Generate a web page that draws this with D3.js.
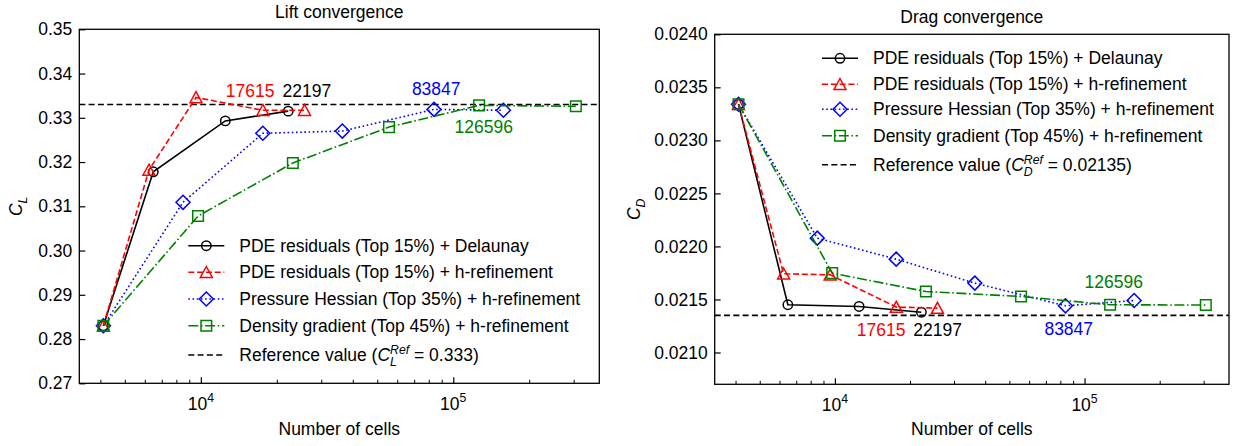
<!DOCTYPE html>
<html>
<head>
<meta charset="utf-8">
<script src="https://cdn.jsdelivr.net/npm/d3@7"></script>
<style>
  html, body { margin: 0; padding: 0; background: #ffffff; }
  svg { display: block; font-family: "Liberation Sans", Arial, Helvetica, sans-serif; }
</style>
</head>
<body>
<svg id="chart" width="1234" height="446"></svg>
<script>
// ---- Mesh sizes (number of cells) for each adaptation strategy ----
const delaunayCells = [4110, 6480, 12500, 22197];
const pdeHCells     = [4110, 6230, 9570, 17615, 25750];
const hessianCells  = [4110, 8500, 17600, 36350, 83847, 158000];
const densityCells  = [4110, 9750, 23150, 55650, 126596, 306000];

// ---- Lift coefficient C_L ----
const delaunayCL = [0.2830, 0.3178, 0.3293, 0.3315];
const pdeHCL     = [0.2830, 0.3182, 0.3346, 0.3317, 0.3317];
const hessianCL  = [0.2830, 0.3109, 0.3265, 0.3270, 0.3319, 0.3317];
const densityCL  = [0.2830, 0.3078, 0.3198, 0.3279, 0.3328, 0.3326];

// ---- Drag coefficient C_D ----
const delaunayCD = [0.02334, 0.021450, 0.021434, 0.021380];
const pdeHCD     = [0.02334, 0.021742, 0.021732, 0.021428, 0.021418];
const hessianCD  = [0.02334, 0.022078, 0.021880, 0.021654, 0.021440, 0.021490];
const densityCD  = [0.02334, 0.021748, 0.021575, 0.021528, 0.021450, 0.021447];

// ---- Reference values ----
const liftRef = 0.333;
const dragRef = 0.02135;

// ---- Series names ----
const seriesNames = [
  "PDE residuals (Top 15%) + Delaunay",
  "PDE residuals (Top 15%) + h-refinement",
  "Pressure Hessian (Top 35%) + h-refinement",
  "Density gradient (Top 45%) + h-refinement"
];

// ---- Axis ticks and limits ----
const liftTicks = [0.27, 0.28, 0.29, 0.30, 0.31, 0.32, 0.33, 0.34, 0.35];
const dragTicks = [0.0210, 0.0215, 0.0220, 0.0225, 0.0230, 0.0235, 0.0240];
const decadeTicks = [1e4, 1e5];
const decadeExponents = ["4", "5"];
const cellLimits = [3300, 379000];
const liftLimits = [0.27, 0.35];
const dragLimits = [0.0207, 0.0240];

// ---- Styling ----
const FONT = 17.5;
const LW = 1.6;
const REF_DASH = "6,3.3";
const styles = [
  { color: "#000000", dash: null,               marker: "circle"   },
  { color: "#ff0000", dash: "6,2.8",            marker: "triangle" },
  { color: "#0000ff", dash: "1.6,2.6",          marker: "diamond"  },
  { color: "#008000", dash: "10,2.6,1.6,2.6",   marker: "square"   }
];

const svg = d3.select("#chart");

function markerPath(kind) {
  switch (kind) {
    case "circle": {
      const p = d3.path();
      p.arc(0, 0, 4.7, 0, 2 * Math.PI);
      p.closePath();
      return p.toString();
    }
    case "triangle": return "M0,-5.8L6,5.2L-6,5.2Z";
    case "diamond":  return "M0,-7L7,0L0,7L-7,0Z";
    case "square":   return "M-5.3,-5.3L5.3,-5.3L5.3,5.3L-5.3,5.3Z";
  }
}

function drawMarker(g, kind, color, px, py) {
  g.append("path")
    .attr("d", markerPath(kind))
    .attr("transform", `translate(${px},${py})`)
    .attr("fill", "none")
    .attr("stroke", color)
    .attr("stroke-width", 1.5);
}

function measure(text, size, italic) {
  const t = svg.append("text")
    .attr("font-size", size)
    .attr("font-style", italic ? "italic" : "normal")
    .text(text);
  const w = t.node().getComputedTextLength();
  t.remove();
  return w;
}

// Writes "C" with a subscript and optional "Ref" superscript into a text node
function symbolLabel(textSel, sub, withSup) {
  textSel.append("tspan").attr("font-style", "italic").text("C");
  const small = FONT * 0.7;
  if (withSup) {
    const wSup = measure("Ref", small, true);
    const wSub = measure(sub, small, true);
    textSel.append("tspan").attr("font-style", "italic").attr("font-size", small)
      .attr("dy", -7.5).text("Ref");
    textSel.append("tspan").attr("font-style", "italic").attr("font-size", small)
      .attr("dx", -wSup).attr("dy", 12).text(sub);
    return { dxAfter: Math.max(0, wSup - wSub), dyAfter: -4.5 };
  }
  textSel.append("tspan").attr("font-style", "italic").attr("font-size", small)
    .attr("dy", 4.5).text(sub);
  return { dxAfter: 0, dyAfter: -4.5 };
}

function drawPanel(cfg) {
  const g = svg.append("g");
  const x = d3.scaleLog().domain(cellLimits).range([cfg.left, cfg.right]);
  const y = d3.scaleLinear().domain(cfg.yLimits).range([cfg.bottom, cfg.top]);

  // reference value
  g.append("line")
    .attr("x1", cfg.left).attr("x2", cfg.right)
    .attr("y1", y(cfg.ref)).attr("y2", y(cfg.ref))
    .attr("stroke", "#000").attr("stroke-width", LW)
    .attr("stroke-dasharray", REF_DASH);

  // series
  cfg.series.forEach((s, i) => {
    const st = styles[i];
    const pts = s.cells.map((c, k) => [x(c), y(s.values[k])]);
    g.append("path")
      .attr("d", d3.line()(pts))
      .attr("fill", "none")
      .attr("stroke", st.color)
      .attr("stroke-width", LW)
      .attr("stroke-dasharray", st.dash);
    pts.forEach(p => drawMarker(g, st.marker, st.color, p[0], p[1]));
  });

  // axes
  const yAxis = d3.axisLeft(y).tickValues(cfg.yTicks).tickSize(-6).tickPadding(7)
    .tickFormat(d3.format(cfg.yFormat));
  const ya = g.append("g").attr("transform", `translate(${cfg.left},0)`).call(yAxis);
  ya.select(".domain").remove();
  ya.selectAll("line").attr("stroke", "#000").attr("stroke-width", 1.2);
  ya.selectAll("text").attr("font-size", FONT).attr("font-family", null).attr("fill", "#000");

  const minor = [];
  [1e3, 1e4, 1e5].forEach(dec => { for (let m = 2; m <= 9; m++) minor.push(dec * m); });
  const minorIn = minor.filter(v => v > cellLimits[0] && v < cellLimits[1]);
  const xMinor = g.append("g").attr("transform", `translate(0,${cfg.bottom})`)
    .call(d3.axisBottom(x).tickValues(minorIn).tickSize(-3.5).tickFormat(""));
  xMinor.select(".domain").remove();
  xMinor.selectAll("line").attr("stroke", "#000").attr("stroke-width", 1);

  const xMajor = g.append("g").attr("transform", `translate(0,${cfg.bottom})`)
    .call(d3.axisBottom(x).tickValues(decadeTicks).tickSize(-6).tickFormat(""));
  xMajor.select(".domain").remove();
  xMajor.selectAll("line").attr("stroke", "#000").attr("stroke-width", 1.2);

  decadeTicks.forEach((v, i) => {
    const t = g.append("text")
      .attr("x", x(v)).attr("y", cfg.bottom + 26.5)
      .attr("text-anchor", "middle")
      .attr("font-size", FONT);
    t.append("tspan").text("10");
    t.append("tspan").attr("font-size", FONT * 0.7).attr("dy", -8).text(decadeExponents[i]);
  });

  // frame
  g.append("rect")
    .attr("x", cfg.left).attr("y", cfg.top)
    .attr("width", cfg.right - cfg.left).attr("height", cfg.bottom - cfg.top)
    .attr("fill", "none").attr("stroke", "#000").attr("stroke-width", 1.3);

  // titles
  g.append("text")
    .attr("x", (cfg.left + cfg.right) / 2).attr("y", cfg.top - 11.5)
    .attr("text-anchor", "middle").attr("font-size", FONT)
    .text(cfg.title);
  g.append("text")
    .attr("x", (cfg.left + cfg.right) / 2).attr("y", 435)
    .attr("text-anchor", "middle").attr("font-size", FONT)
    .text("Number of cells");
  const yl = g.append("text")
    .attr("transform", `translate(${cfg.yLabelX},${(cfg.top + cfg.bottom) / 2}) rotate(-90)`)
    .attr("text-anchor", "middle").attr("font-size", FONT);
  symbolLabel(yl, cfg.sub, false);

  // value annotations (cell counts)
  cfg.notes.forEach(n => {
    const s = cfg.series[n.series];
    const c = s.cells[n.index];
    g.append("text")
      .attr("x", x(c) + n.dx).attr("y", y(s.values[n.index]) + n.dy)
      .attr("text-anchor", "middle").attr("dominant-baseline", "central")
      .attr("font-size", FONT).attr("fill", styles[n.series].color)
      .text(String(c));
  });

  // legend
  const lg = g.append("g");
  cfg.series.forEach((s, i) => {
    const st = styles[i];
    const ry = cfg.legend.rows[i];
    lg.append("line")
      .attr("x1", cfg.legend.x).attr("x2", cfg.legend.x + 36)
      .attr("y1", ry).attr("y2", ry)
      .attr("stroke", st.color).attr("stroke-width", LW)
      .attr("stroke-dasharray", st.dash);
    drawMarker(lg, st.marker, st.color, cfg.legend.x + 18, ry);
    lg.append("text")
      .attr("x", cfg.legend.x + 51).attr("y", ry)
      .attr("dominant-baseline", "central").attr("font-size", FONT)
      .text(seriesNames[i]);
  });
  const rr = cfg.legend.rows[4];
  lg.append("line")
    .attr("x1", cfg.legend.x).attr("x2", cfg.legend.x + 36)
    .attr("y1", rr).attr("y2", rr)
    .attr("stroke", "#000").attr("stroke-width", LW)
    .attr("stroke-dasharray", REF_DASH);
  const rt = lg.append("text")
    .attr("x", cfg.legend.x + 51).attr("y", rr + 6.3)
    .attr("font-size", FONT);
  rt.append("tspan").text("Reference value (");
  const after = symbolLabel(rt, cfg.sub, true);
  rt.append("tspan").attr("dx", after.dxAfter).attr("dy", after.dyAfter)
    .text(" = " + cfg.refText + ")");
}

drawPanel({
  left: 79.3, right: 599.3, top: 29.3, bottom: 383.3,
  yLimits: liftLimits, yTicks: liftTicks, yFormat: ".2f",
  title: "Lift convergence", sub: "L", yLabelX: 22,
  ref: liftRef, refText: String(liftRef),
  series: [
    { cells: delaunayCells, values: delaunayCL },
    { cells: pdeHCells,     values: pdeHCL },
    { cells: hessianCells,  values: hessianCL },
    { cells: densityCells,  values: densityCL }
  ],
  notes: [
    { series: 1, index: 3, dx: -12.7, dy: -19.3 },
    { series: 0, index: 3, dx: 18.6,  dy: -20.2 },
    { series: 2, index: 4, dx: 2.3,   dy: -20.4 },
    { series: 3, index: 4, dx: 4.6,   dy: 21.6 }
  ],
  legend: { x: 188.3, rows: [245.7, 272.3, 299, 325.7, 355] }
});

drawPanel({
  left: 714.7, right: 1229, top: 34.3, bottom: 384.3,
  yLimits: dragLimits, yTicks: dragTicks, yFormat: ".4f",
  title: "Drag convergence", sub: "D", yLabelX: 640,
  ref: dragRef, refText: String(dragRef),
  series: [
    { cells: delaunayCells, values: delaunayCD },
    { cells: pdeHCells,     values: pdeHCD },
    { cells: hessianCells,  values: hessianCD },
    { cells: densityCells,  values: densityCD }
  ],
  notes: [
    { series: 1, index: 3, dx: -15.2, dy: 22.9 },
    { series: 0, index: 3, dx: 16.3,  dy: 17.8 },
    { series: 2, index: 4, dx: 3.3,   dy: 23.2 },
    { series: 3, index: 4, dx: 3.7,   dy: -22.7 }
  ],
  legend: { x: 822, rows: [58.3, 84.3, 109.3, 135.7, 164.7] }
});
</script>
</body>
</html>
